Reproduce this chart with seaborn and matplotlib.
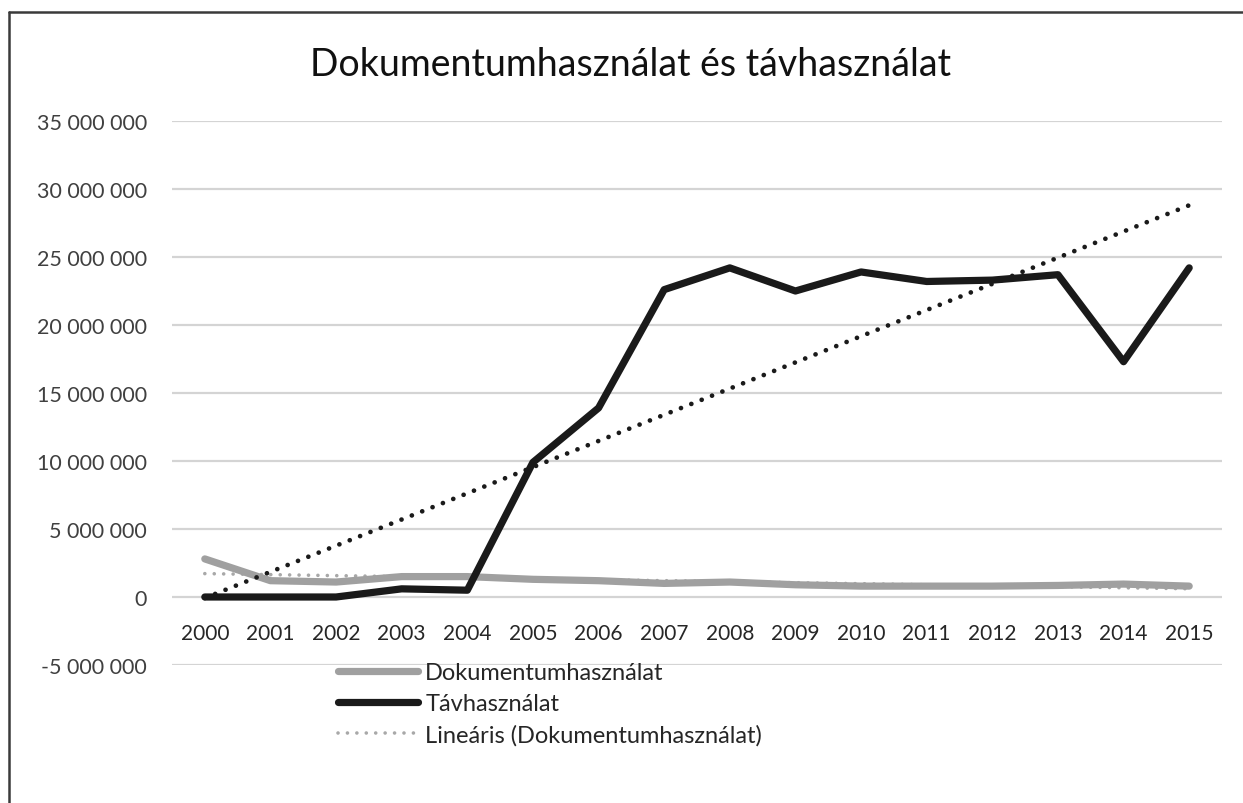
import numpy as np
import pandas as pd
import matplotlib
matplotlib.use("Agg")
import matplotlib.pyplot as plt
from matplotlib.ticker import FuncFormatter, MultipleLocator
from matplotlib.lines import Line2D
import seaborn as sns

# data
years = list(range(2000, 2016))
dokumentum = [2800000, 1200000, 1100000, 1500000, 1500000, 1300000, 1200000, 1000000,
              1100000, 900000, 800000, 800000, 800000, 850000, 950000, 800000]
tavhasznalat = [0, 0, 0, 600000, 500000, 9900000, 13900000, 22600000,
                24200000, 22500000, 23900000, 23200000, 23300000, 23700000, 17300000, 24200000]

title = "Dokumentumhasználat és távhasználat"
label_dok = "Dokumentumhasználat"
label_tav = "Távhasználat"
label_trend = "Lineáris (Dokumentumhasználat)"

df = pd.DataFrame({"ev": years, "dok": dokumentum, "tav": tavhasznalat})

# linear trendlines like Excel's
x = np.arange(len(years))
df["dok_trend"] = np.polyval(np.polyfit(x, df["dok"], 1), x)
df["tav_trend"] = np.polyval(np.polyfit(x, df["tav"], 1), x)

sns.set_theme(style="white")
plt.rcParams["font.family"] = ["Lato", "DejaVu Sans"]

fig = plt.figure(figsize=(12.43, 8.04), dpi=100)
ax = fig.add_axes([172 / 1243, 1 - 666 / 804, (1222 - 172) / 1243, (666 - 122) / 804])

for yv in range(-5000000, 35000001, 5000000):
    ax.axhline(yv, color="#d4d4d4", lw=1.6, zorder=0)

sns.lineplot(data=df, x="ev", y="dok", ax=ax, color="#a0a0a0", lw=5.2,
             solid_capstyle="round", label=label_dok, zorder=3)
sns.lineplot(data=df, x="ev", y="tav", ax=ax, color="#1a1a1a", lw=5.2,
             solid_capstyle="round", label=label_tav, zorder=4)
sns.lineplot(data=df, x="ev", y="dok_trend", ax=ax, color="#a8a8a8", lw=2.6,
             linestyle=(0, (0.01, 2.6)), dash_capstyle="round", label=label_trend, zorder=2)
sns.lineplot(data=df, x="ev", y="tav_trend", ax=ax, color="#1a1a1a", lw=3.4,
             linestyle=(0, (0.01, 2.35)), dash_capstyle="round", zorder=5)

ax.set_xlim(1999.5, 2015.5)
ax.set_ylim(-5000000, 35000000)
ax.yaxis.set_major_locator(MultipleLocator(5000000))
ax.yaxis.set_major_formatter(FuncFormatter(lambda v, p: f"{v:,.0f}".replace(",", " ")))
ax.set_xticks(years)
ax.set_xticklabels([str(y) for y in years])
ax.set_xlabel("")
ax.set_ylabel("")

for s in ["top", "right", "left"]:
    ax.spines[s].set_visible(False)
ax.spines["bottom"].set_position(("data", 0))
ax.spines["bottom"].set_visible(False)
ax.tick_params(axis="x", length=0, pad=19, labelsize=15, labelcolor="#262626")
ax.tick_params(axis="y", length=0, pad=18, labelsize=15.5, labelcolor="#404040")

fig.text(0.507, 1 - 65 / 804, title, ha="center", va="center", fontsize=27, color="#111111")

handles, labels = ax.get_legend_handles_labels()
ax.legend(handles[:3], labels[:3], loc="upper left", bbox_to_anchor=(338 / 1243, 1 - 663 / 804),
          bbox_transform=fig.transFigure, frameon=False, fontsize=17, handlelength=3.4,
          handletextpad=0.3, labelspacing=0.42, borderaxespad=0, borderpad=0)

# outer chart frame (only top and left edges are in view)
fig.add_artist(Line2D([9 / 1243, 9 / 1243], [0, 1 - 13 / 804], transform=fig.transFigure,
                      color="#3a3a3a", lw=1.8))
fig.add_artist(Line2D([9 / 1243, 1], [1 - 13 / 804, 1 - 13 / 804], transform=fig.transFigure,
                      color="#3a3a3a", lw=1.8))

fig.savefig("out.png", dpi=100, facecolor="white")
